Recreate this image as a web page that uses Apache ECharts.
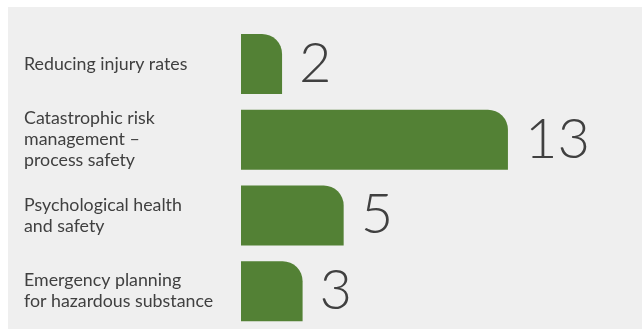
<!DOCTYPE html>
<html>
<head>
<meta charset="utf-8">
<script src="https://cdn.jsdelivr.net/npm/echarts@6/dist/echarts.min.js"></script>
<style>
  html, body {
    margin: 0;
    padding: 0;
    background: #fff;
  }
  .panel {
    position: absolute;
    left: 8px;
    top: 7px;
    right: 0;
    bottom: 0;
    background: #efefef;
  }
  #chart {
    position: absolute;
    left: 0;
    top: 0;
    width: 642px;
    height: 329px;
  }
</style>
</head>
<body>
<div class="panel"></div>
<div id="chart"></div>
<script>
const categories = [
  'Reducing injury rates',
  'Catastrophic risk\nmanagement –\nprocess safety',
  'Psychological health\nand safety',
  'Emergency planning\nfor hazardous substance'
]
const counts = [2, 13, 5, 3]

const chart = echarts.init(document.getElementById('chart'))

const option = {
  backgroundColor: 'transparent',
  animation: false,
  grid: {
    left: 241,
    right: 93,
    top: 26,
    bottom: 0
  },
  xAxis: {
    type: 'value',
    min: 0,
    max: 15,
    show: false
  },
  yAxis: {
    type: 'category',
    inverse: true,
    data: categories,
    axisLine: { show: false },
    axisTick: { show: false },
    axisLabel: {
      align: 'left',
      margin: 217,
      fontFamily: 'Lato',
      fontSize: 17.8,
      lineHeight: 21,
      color: '#404040'
    }
  },
  series: [{
    type: 'bar',
    data: counts,
    barWidth: 60,
    itemStyle: {
      color: '#538135',
      borderRadius: [0, 20, 0, 0]
    },
    label: {
      show: true,
      position: 'right',
      distance: 17,
      fontFamily: 'Lato',
      fontWeight: 300,
      fontSize: 56,
      color: '#404040'
    }
  }]
}

chart.setOption(option)
</script>
</body>
</html>
